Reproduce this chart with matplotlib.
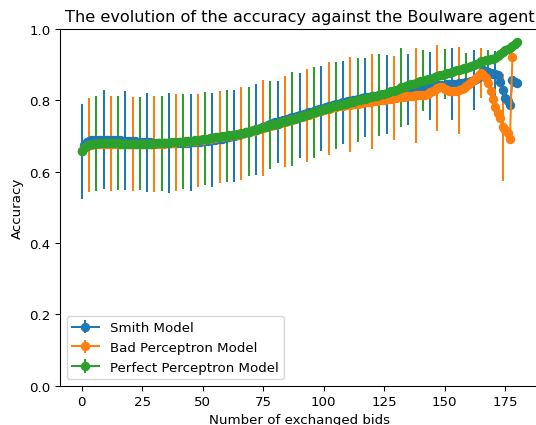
import numpy as np
import matplotlib
matplotlib.use("Agg")
import matplotlib.pyplot as plt

smith = [
    0.657, 0.676, 0.683, 0.686, 0.688, 0.689, 0.690, 0.690, 0.690, 0.690,
    0.690, 0.690, 0.689, 0.689, 0.689, 0.688, 0.688, 0.687, 0.687, 0.686,
    0.686, 0.685, 0.685, 0.684, 0.684, 0.683, 0.683, 0.682, 0.682, 0.681,
    0.681, 0.681, 0.680, 0.680, 0.680, 0.680, 0.680, 0.680, 0.680, 0.680,
    0.680, 0.680, 0.681, 0.681, 0.681, 0.682, 0.682, 0.683, 0.683, 0.684,
    0.685, 0.686, 0.687, 0.688, 0.689, 0.690, 0.691, 0.692, 0.693, 0.694,
    0.696, 0.697, 0.699, 0.700, 0.702, 0.704, 0.706, 0.708, 0.710, 0.712,
    0.714, 0.716, 0.719, 0.721, 0.723, 0.726, 0.728, 0.731, 0.733, 0.736,
    0.738, 0.740, 0.742, 0.744, 0.746, 0.748, 0.750, 0.752, 0.754, 0.756,
    0.758, 0.760, 0.762, 0.764, 0.766, 0.768, 0.771, 0.773, 0.775, 0.777,
    0.779, 0.781, 0.783, 0.785, 0.787, 0.789, 0.791, 0.793, 0.795, 0.796,
    0.798, 0.799, 0.801, 0.802, 0.804, 0.805, 0.807, 0.808, 0.809, 0.810,
    0.811, 0.812, 0.813, 0.814, 0.815, 0.816, 0.817, 0.818, 0.819, 0.820,
    0.821, 0.822, 0.824, 0.826, 0.828, 0.830, 0.832, 0.834, 0.836, 0.838,
    0.839, 0.840, 0.840, 0.841, 0.841, 0.842, 0.842, 0.843, 0.843, 0.844,
    0.844, 0.845, 0.845, 0.846, 0.846, 0.847, 0.848, 0.849, 0.850, 0.851,
    0.852, 0.854, 0.857, 0.860, 0.865, 0.873, 0.884, 0.882, 0.879, 0.877,
    0.875, 0.873, 0.870, 0.852, 0.828, 0.806, 0.798, 0.787, 0.857, 0.852, 0.848,
]

bad = [
    0.657, 0.666, 0.671, 0.674, 0.676, 0.677, 0.678, 0.679, 0.679, 0.679,
    0.679, 0.679, 0.679, 0.679, 0.679, 0.679, 0.678, 0.678, 0.678, 0.678,
    0.678, 0.678, 0.678, 0.678, 0.678, 0.678, 0.678, 0.678, 0.678, 0.678,
    0.678, 0.679, 0.679, 0.679, 0.679, 0.680, 0.680, 0.681, 0.681, 0.682,
    0.682, 0.683, 0.683, 0.684, 0.685, 0.685, 0.686, 0.687, 0.688, 0.689,
    0.690, 0.691, 0.692, 0.693, 0.694, 0.695, 0.696, 0.697, 0.698, 0.699,
    0.700, 0.701, 0.702, 0.703, 0.704, 0.705, 0.707, 0.708, 0.710, 0.711,
    0.713, 0.715, 0.717, 0.719, 0.721, 0.723, 0.725, 0.727, 0.729, 0.731,
    0.732, 0.734, 0.736, 0.738, 0.740, 0.742, 0.744, 0.746, 0.748, 0.750,
    0.752, 0.754, 0.756, 0.758, 0.760, 0.763, 0.765, 0.767, 0.769, 0.771,
    0.773, 0.775, 0.777, 0.779, 0.781, 0.782, 0.783, 0.784, 0.785, 0.786,
    0.787, 0.788, 0.789, 0.790, 0.791, 0.792, 0.793, 0.794, 0.795, 0.796,
    0.797, 0.798, 0.799, 0.800, 0.801, 0.802, 0.803, 0.804, 0.805, 0.806,
    0.807, 0.808, 0.809, 0.810, 0.811, 0.812, 0.813, 0.813, 0.814, 0.814,
    0.815, 0.815, 0.816, 0.818, 0.822, 0.826, 0.830, 0.835, 0.838, 0.836,
    0.832, 0.828, 0.826, 0.825, 0.825, 0.826, 0.828, 0.831, 0.835, 0.840,
    0.846, 0.852, 0.858, 0.864, 0.870, 0.877, 0.872, 0.862, 0.848, 0.826,
    0.803, 0.782, 0.765, 0.750, 0.724, 0.718, 0.709, 0.692, 0.921,
]

perfect = [
    0.658, 0.667, 0.672, 0.675, 0.677, 0.678, 0.679, 0.680, 0.680, 0.680,
    0.680, 0.680, 0.680, 0.680, 0.680, 0.680, 0.679, 0.679, 0.679, 0.679,
    0.679, 0.679, 0.679, 0.679, 0.679, 0.679, 0.679, 0.679, 0.679, 0.679,
    0.679, 0.680, 0.680, 0.680, 0.680, 0.681, 0.681, 0.682, 0.682, 0.683,
    0.683, 0.684, 0.684, 0.685, 0.686, 0.686, 0.687, 0.688, 0.689, 0.690,
    0.691, 0.692, 0.693, 0.694, 0.695, 0.696, 0.697, 0.698, 0.699, 0.700,
    0.701, 0.702, 0.703, 0.704, 0.705, 0.706, 0.708, 0.709, 0.711, 0.712,
    0.714, 0.716, 0.718, 0.720, 0.722, 0.724, 0.726, 0.728, 0.730, 0.732,
    0.733, 0.735, 0.737, 0.739, 0.741, 0.743, 0.745, 0.747, 0.749, 0.751,
    0.753, 0.755, 0.757, 0.759, 0.761, 0.764, 0.766, 0.768, 0.770, 0.772,
    0.775, 0.777, 0.779, 0.781, 0.783, 0.785, 0.787, 0.788, 0.789, 0.790,
    0.792, 0.794, 0.796, 0.798, 0.800, 0.802, 0.803, 0.805, 0.806, 0.808,
    0.809, 0.811, 0.813, 0.815, 0.817, 0.819, 0.821, 0.823, 0.825, 0.827,
    0.830, 0.833, 0.836, 0.838, 0.841, 0.843, 0.845, 0.847, 0.849, 0.851,
    0.853, 0.855, 0.857, 0.859, 0.861, 0.863, 0.866, 0.868, 0.870, 0.872,
    0.874, 0.876, 0.878, 0.880, 0.882, 0.884, 0.886, 0.888, 0.890, 0.892,
    0.894, 0.897, 0.900, 0.903, 0.906, 0.909, 0.911, 0.913, 0.914, 0.915,
    0.917, 0.919, 0.923, 0.930, 0.936, 0.940, 0.944, 0.948, 0.952, 0.957, 0.963,
]

# standard deviations at the points where error bars are drawn (every 9th point)
smith_err = [0.133, 0.138, 0.138, 0.139, 0.140, 0.136, 0.132, 0.129, 0.128, 0.115,
             0.120, 0.120, 0.116, 0.110, 0.110, 0.100, 0.095, 0.100, 0.083, 0.065, 0.005]
bad_err = [0.132, 0.132, 0.132, 0.135, 0.137, 0.131, 0.129, 0.129, 0.135, 0.127,
           0.131, 0.130, 0.133, 0.133, 0.118, 0.134, 0.120, 0.122, 0.070, 0.150]
perfect_err = [0.133, 0.131, 0.131, 0.133, 0.133, 0.130, 0.129, 0.125, 0.123, 0.132,
               0.128, 0.122, 0.118, 0.115, 0.110, 0.085, 0.070, 0.042, 0.028, 0.010]

labels = ["Smith Model", "Bad Perceptron Model", "Perfect Perceptron Model"]
offsets = [0, 3, 6]


def full_err(n, off, vals):
    e = np.zeros(n)
    idx = list(range(off, n, 9))
    e[idx] = vals[:len(idx)]
    return e


DPI = 96.5
fig = plt.figure(figsize=(536 / DPI, 426 / DPI), dpi=DPI)
ax = fig.add_axes([60 / 536, 39.3 / 426, 479 / 536, 356.7 / 426])

for y, e, lab, off in zip([smith, bad, perfect], [smith_err, bad_err, perfect_err], labels, offsets):
    y = np.array(y)
    x = np.arange(len(y))
    ax.errorbar(x, y, yerr=full_err(len(y), off, e), marker="o",
                errorevery=(off, 9), label=lab)

ax.set_ylim(0, 1.0)
ax.set_title("The evolution of the accuracy against the Boulware agent")
ax.set_xlabel("Number of exchanged bids")
ax.set_ylabel("Accuracy")
ax.legend(loc="lower left")

fig.savefig("out.png", dpi=DPI)
